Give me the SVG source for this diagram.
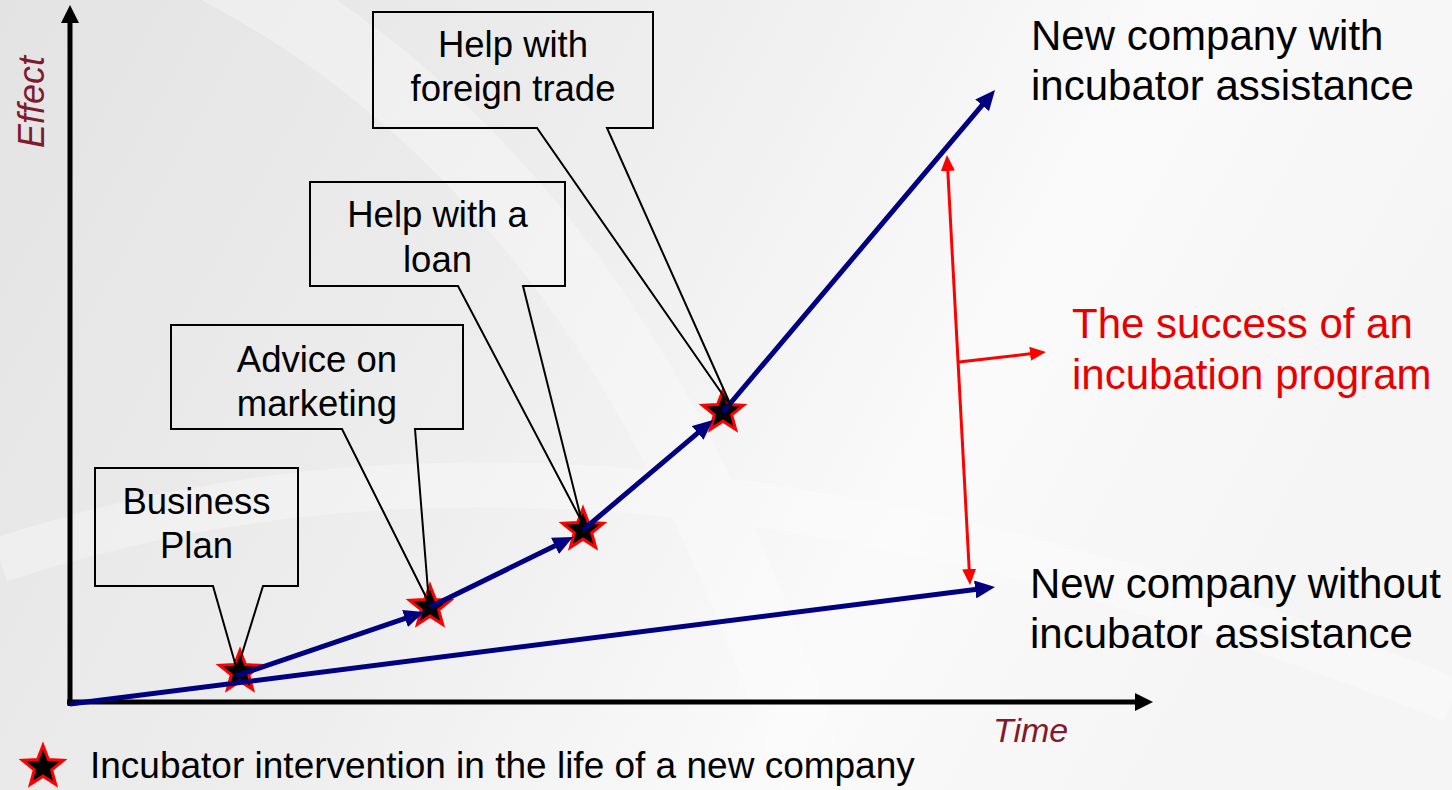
<svg xmlns="http://www.w3.org/2000/svg" width="1452" height="790" viewBox="0 0 1452 790">
<defs>
<style>
.txt{font-family:"Liberation Sans",Arial,sans-serif;fill:#000}
.call{font-size:36.5px;text-anchor:middle}
.big{font-size:42px}
.red{fill:#E80000}
.axlab{font-family:"Liberation Sans",Arial,sans-serif;font-style:italic;fill:#7F1B2D}
.callout{fill:none;stroke:#000;stroke-width:2;stroke-linejoin:miter}
.blue{stroke:#000080;stroke-width:5;fill:none;marker-end:url(#bh)}
.axis{stroke:#000;stroke-width:5;fill:none;marker-end:url(#kh)}
.redl{stroke:#FF0000;stroke-width:3;fill:none}
.star{fill:#000;stroke:#FF0000;stroke-width:3;stroke-linejoin:miter}
</style>
<linearGradient id="bg" x1="0" y1="0" x2="1" y2="0.3">
<stop offset="0" stop-color="#e3e3e3"/>
<stop offset="0.45" stop-color="#eeeeee"/>
<stop offset="0.75" stop-color="#fafafa"/>
<stop offset="1" stop-color="#f5f5f5"/>
</linearGradient>
<marker id="bh" markerUnits="userSpaceOnUse" viewBox="0 0 20 18" markerWidth="20" markerHeight="18" refX="8" refY="9" orient="auto">
<path d="M0,0 L20,9 L0,18 Z" fill="#000080"/>
</marker>
<marker id="kh" markerUnits="userSpaceOnUse" viewBox="0 0 18 18" markerWidth="18" markerHeight="18" refX="4" refY="9" orient="auto">
<path d="M0,0 L18,9 L0,18 Z" fill="#000"/>
</marker>
<marker id="rh" markerUnits="userSpaceOnUse" viewBox="0 0 16 14" markerWidth="16" markerHeight="14" refX="6" refY="7" orient="auto-start-reverse">
<path d="M0,0 L16,7 L0,14 Z" fill="#FF0000"/>
</marker>
<path id="star" d="M0,-21.5 L5.4,-7.4 L20.45,-6.64 L8.7,2.83 L12.64,17.39 L0,9.15 L-12.64,17.39 L-8.7,2.83 L-20.45,-6.64 L-5.4,-7.4 Z"/>
</defs>

<rect width="1452" height="790" fill="url(#bg)"/>
<g fill="none" stroke="#ffffff" opacity="0.3">
<path d="M200,-40 C520,120 700,420 820,800" stroke-width="70"/>
<path d="M0,560 C420,420 900,480 1452,700" stroke-width="45"/>
</g>

<g id="axes">
<line x1="70" y1="706" x2="70" y2="19" class="axis"/>
<line x1="67" y1="702" x2="1139" y2="702" class="axis"/>
<text class="axlab" font-size="36" transform="translate(44,148) rotate(-90)">Effect</text>
<text class="axlab" x="993" y="742" font-size="34">Time</text>
</g>

<g id="stars">
<use href="#star" x="240" y="672" class="star"/>
<use href="#star" x="430" y="607" class="star"/>
<use href="#star" x="583" y="530" class="star"/>
<use href="#star" x="723" y="412" class="star"/>
</g>

<g id="connectors">
<line x1="70" y1="704" x2="983.1" y2="588.5" class="blue"/>
<line x1="236" y1="676" x2="412.6" y2="615.9" class="blue"/>
<line x1="430" y1="607" x2="562.2" y2="542.3" class="blue"/>
<line x1="583" y1="530" x2="703.8" y2="427.8" class="blue"/>
<line x1="723" y1="412" x2="987.3" y2="99.2" class="blue"/>
<line x1="947.5" y1="165" x2="969.5" y2="575" class="redl" marker-start="url(#rh)" marker-end="url(#rh)"/>
<line x1="959" y1="362" x2="1036" y2="353.1" class="redl" marker-end="url(#rh)"/>
</g>

<g id="callout-business-plan">
<path class="callout" d="M95,468 H298 V586 H263 L237,670 L213,586 H95 Z"/>
<text class="txt call" x="196.5" y="514">Business</text>
<text class="txt call" x="196.5" y="558">Plan</text>
</g>
<g id="callout-marketing">
<path class="callout" d="M171,325 H463 V429 H415 L429,603 L342,429 H171 Z"/>
<text class="txt call" x="317" y="372">Advice on</text>
<text class="txt call" x="317" y="416">marketing</text>
</g>
<g id="callout-loan">
<path class="callout" d="M310,182 H565 V286 H523 L582,522 L458,286 H310 Z"/>
<text class="txt call" x="437.5" y="227">Help with a</text>
<text class="txt call" x="437.5" y="272">loan</text>
</g>
<g id="callout-foreign-trade">
<path class="callout" d="M373,12 H653 V128 H607 L732,408 L537,128 H373 Z"/>
<text class="txt call" x="513" y="57">Help with</text>
<text class="txt call" x="513" y="101">foreign trade</text>
</g>

<g id="label-with">
<text class="txt big" x="1031" y="50">New company with</text>
<text class="txt big" x="1031" y="100">incubator assistance</text>
</g>
<g id="label-success">
<text class="txt big red" x="1072" y="338">The success of an</text>
<text class="txt big red" x="1072" y="389">incubation program</text>
</g>
<g id="label-without">
<text class="txt big" x="1030" y="598">New company without</text>
<text class="txt big" x="1030" y="648">incubator assistance</text>
</g>

<g id="legend">
<use href="#star" x="43" y="767" class="star"/>
<text class="txt" x="90" y="778" font-size="37">Incubator intervention in the life of a new company</text>
</g>
</svg>
